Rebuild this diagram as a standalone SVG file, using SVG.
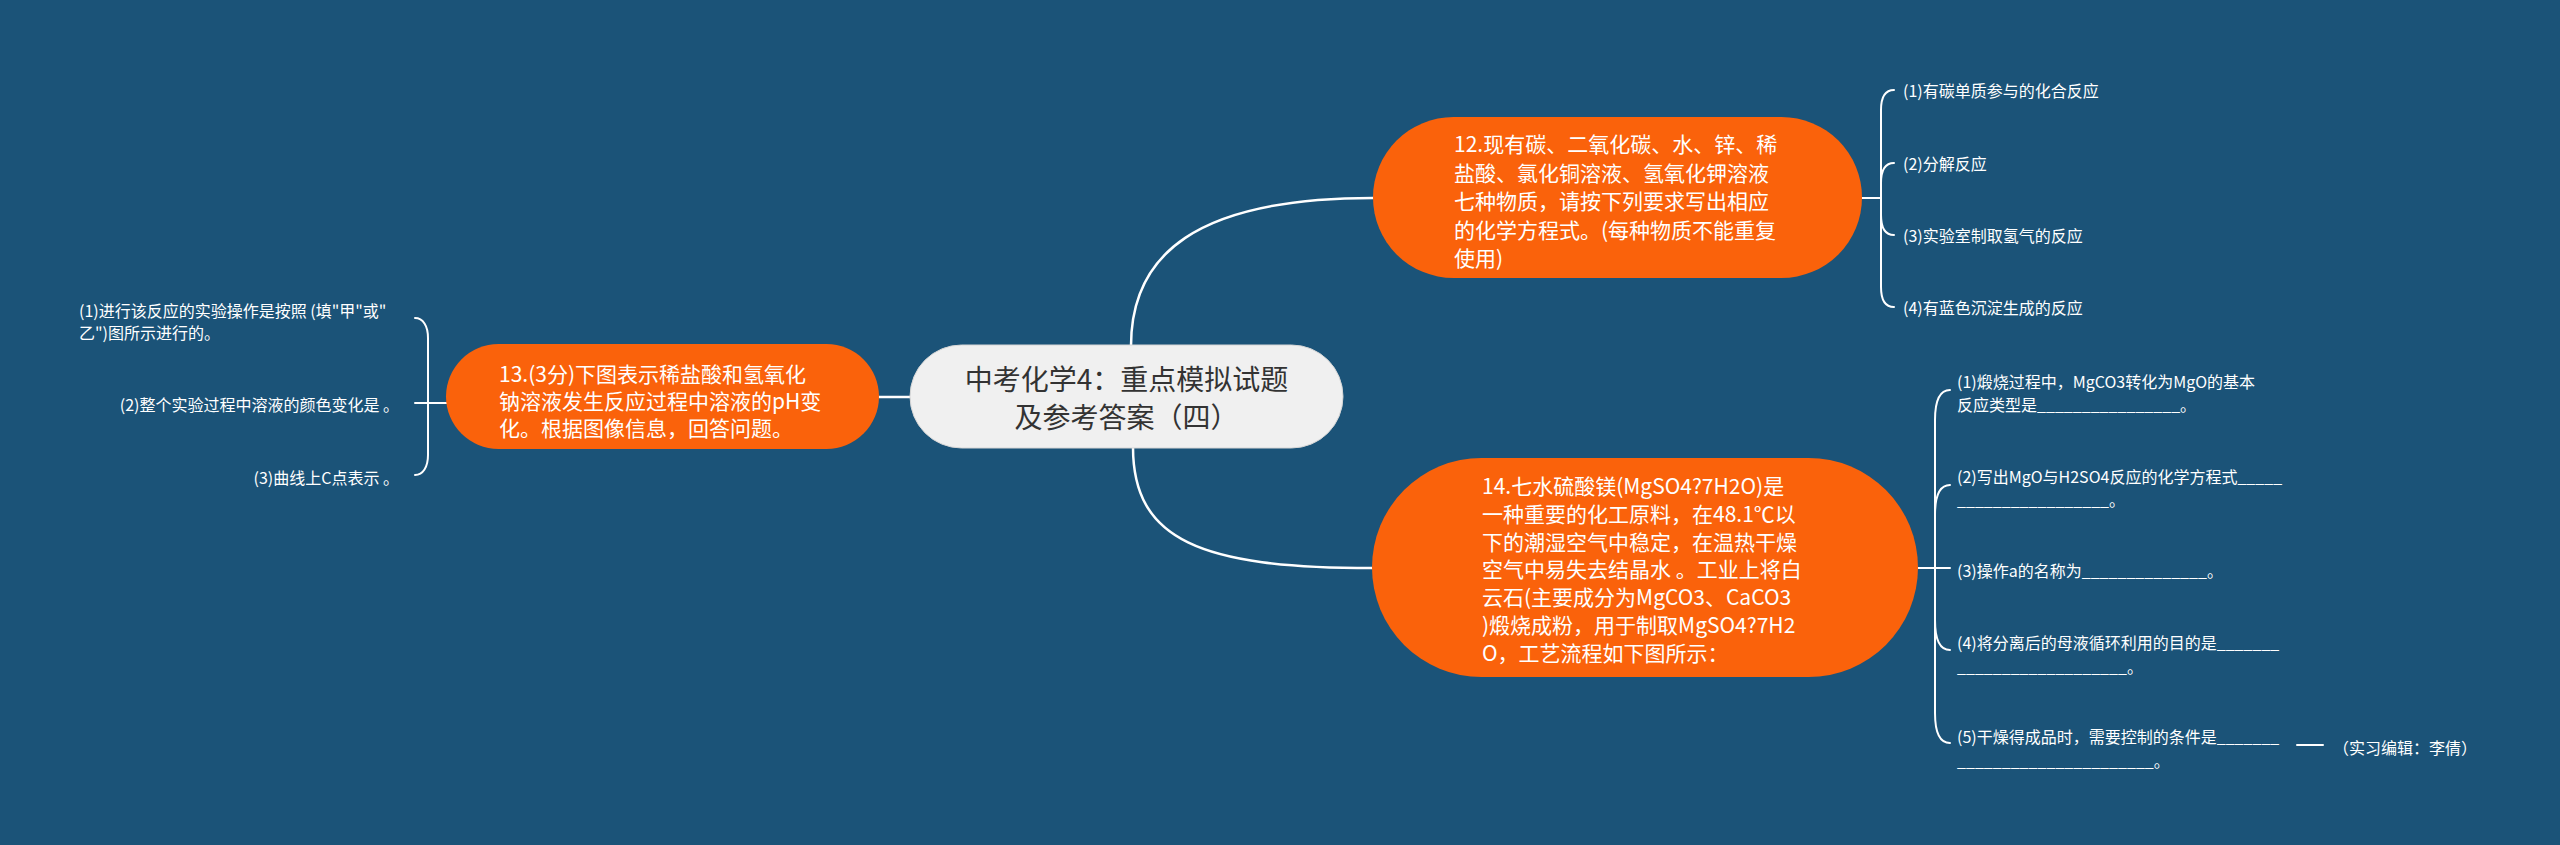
<svg xmlns="http://www.w3.org/2000/svg" width="2560" height="845" viewBox="0 0 2560 845">
<style>
.bg{fill:#1b5378}
.main{fill:#f0f0f0;stroke:#d6d6d6;stroke-width:1}
.topic{fill:#fa620b}
.line{fill:none;stroke:#ffffff;stroke-width:2.5;stroke-linecap:round}
.sub{fill:none;stroke:#ffffff;stroke-width:2;stroke-linecap:round}
text{font-family:"Noto Sans CJK SC","Noto Sans",sans-serif;dominant-baseline:central}
.tmain{font-size:28px;fill:#333333}
.ttopic{font-size:21px;fill:#ffffff}
.tleaf{font-size:16px;fill:#ffffff}
</style>
<rect class="bg" x="0" y="0" width="2560" height="845"/>
<g id="connectors">
<path class="line" d="M1131,346 C1131,255 1195,198 1373,198"/>
<path class="line" d="M1133,447 C1133,540 1200,568 1372,568"/>
<path class="line" d="M879,397 H910"/>
<path class="sub" d="M1862,198 H1881"/>
<path class="sub" d="M1881,198 V110 C1881,96 1886,90 1894,90"/>
<path class="sub" d="M1881,198 V183 C1881,169 1886,163 1894,163"/>
<path class="sub" d="M1881,198 V215 C1881,229 1886,235 1894,235"/>
<path class="sub" d="M1881,198 V287 C1881,301 1886,307 1894,307"/>
<path class="sub" d="M1918,568 H1950"/>
<path class="sub" d="M1935,568 V420 C1935,400 1940,390 1950,390"/>
<path class="sub" d="M1935,568 V515 C1935,495 1940,485 1950,485"/>
<path class="sub" d="M1935,568 V620 C1935,640 1940,650 1950,650"/>
<path class="sub" d="M1935,568 V713 C1935,733 1940,743 1950,743"/>
<path class="sub" d="M2297,745 H2323"/>
<path class="sub" d="M447,403 H415"/>
<path class="sub" d="M428,403 V338 C428,326 423,318 415,318"/>
<path class="sub" d="M428,403 V455 C428,467 423,475 415,475"/>
</g>
<g id="center">
<rect class="main" x="910" y="345" width="433" height="103" rx="51.5"/>
<text class="tmain" x="1126.5" y="378" text-anchor="middle">中考化学4：重点模拟试题</text>
<text class="tmain" x="1126.5" y="416" text-anchor="middle">及参考答案（四）</text>
</g>
<g id="node12">
<rect class="topic" x="1373" y="117" width="489" height="161" rx="80.5"/>
<text class="ttopic" x="1454" y="143">12.现有碳、二氧化碳、水、锌、稀</text>
<text class="ttopic" x="1454" y="171.5">盐酸、氯化铜溶液、氢氧化钾溶液</text>
<text class="ttopic" x="1454" y="200">七种物质，请按下列要求写出相应</text>
<text class="ttopic" x="1454" y="228.5">的化学方程式。(每种物质不能重复</text>
<text class="ttopic" x="1454" y="257">使用)</text>
</g>
<g id="node12-1"><text class="tleaf" x="1903" y="90">(1)有碳单质参与的化合反应</text></g>
<g id="node12-2"><text class="tleaf" x="1903" y="163">(2)分解反应</text></g>
<g id="node12-3"><text class="tleaf" x="1903" y="235">(3)实验室制取氢气的反应</text></g>
<g id="node12-4"><text class="tleaf" x="1903" y="307">(4)有蓝色沉淀生成的反应</text></g>
<g id="node13">
<rect class="topic" x="446" y="344" width="433" height="105" rx="52.5"/>
<text class="ttopic" x="499" y="373">13.(3分)下图表示稀盐酸和氢氧化</text>
<text class="ttopic" x="499" y="400">钠溶液发生反应过程中溶液的pH变</text>
<text class="ttopic" x="499" y="427">化。根据图像信息，回答问题。</text>
</g>
<g id="node13-1">
<text class="tleaf" x="79" y="310">(1)进行该反应的实验操作是按照 (填"甲"或"</text>
<text class="tleaf" x="79" y="332">乙")图所示进行的。</text>
</g>
<g id="node13-2"><text class="tleaf" x="399" y="404" text-anchor="end">(2)整个实验过程中溶液的颜色变化是 。</text></g>
<g id="node13-3"><text class="tleaf" x="399" y="477" text-anchor="end">(3)曲线上C点表示 。</text></g>
<g id="node14">
<rect class="topic" x="1372" y="458" width="546" height="219" rx="109.5"/>
<text class="ttopic" x="1482" y="485">14.七水硫酸镁(MgSO4?7H2O)是</text>
<text class="ttopic" x="1482" y="512.8">一种重要的化工原料，在48.1℃以</text>
<text class="ttopic" x="1482" y="540.6">下的潮湿空气中稳定，在温热干燥</text>
<text class="ttopic" x="1482" y="568.4">空气中易失去结晶水 。工业上将白</text>
<text class="ttopic" x="1482" y="596.2">云石(主要成分为MgCO3、CaCO3</text>
<text class="ttopic" x="1482" y="624">)煅烧成粉，用于制取MgSO4?7H2</text>
<text class="ttopic" x="1482" y="651.8">O，工艺流程如下图所示：</text>
</g>
<g id="node14-1">
<text class="tleaf" x="1957" y="381">(1)煅烧过程中，MgCO3转化为MgO的基本</text>
<text class="tleaf" x="1957" y="404">反应类型是________________。</text>
</g>
<g id="node14-2">
<text class="tleaf" x="1957" y="476">(2)写出MgO与H2SO4反应的化学方程式_____</text>
<text class="tleaf" x="1957" y="499">_________________。</text>
</g>
<g id="node14-3"><text class="tleaf" x="1957" y="570">(3)操作a的名称为______________。</text></g>
<g id="node14-4">
<text class="tleaf" x="1957" y="642">(4)将分离后的母液循环利用的目的是_______</text>
<text class="tleaf" x="1957" y="666">___________________。</text>
</g>
<g id="node14-5">
<text class="tleaf" x="1957" y="736">(5)干燥得成品时，需要控制的条件是_______</text>
<text class="tleaf" x="1957" y="760">______________________。</text>
</g>
<g id="node14-5-1"><text class="tleaf" x="2333" y="747">（实习编辑：李倩）</text></g>
</svg>
